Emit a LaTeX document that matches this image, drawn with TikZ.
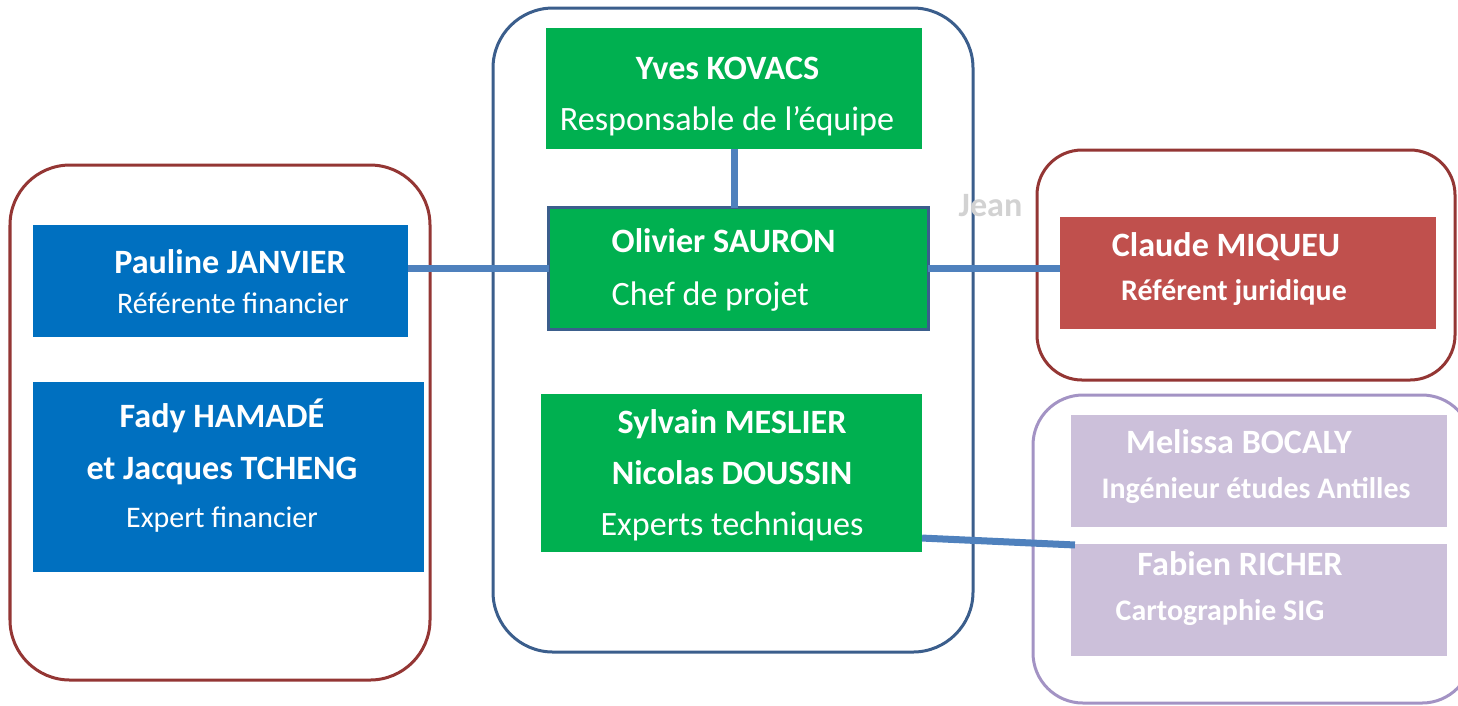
\documentclass[tikz,border=0pt]{standalone}
\usepackage{fontspec}
\setmainfont{Carlito}
\usetikzlibrary{calc}

\definecolor{teamblue}{HTML}{0070C0}
\definecolor{teamgreen}{HTML}{00B050}
\definecolor{teamred}{HTML}{C0504D}
\definecolor{teamlilac}{HTML}{CCC0DA}
\definecolor{grpred}{HTML}{943634}
\definecolor{grpblue}{HTML}{3B5E8C}
\definecolor{grplilac}{HTML}{A393C4}
\definecolor{linkblue}{HTML}{4F81BD}

\tikzset{
    box/.style={rectangle, inner sep=0pt, outer sep=0pt, minimum width=3.76cm, minimum height=1.12cm},
    group/.style={rounded corners=0.6cm, line width=0.03cm},
    link/.style={draw=linkblue, line width=0.07cm},
    who/.style={anchor=base, inner sep=0pt, text=white, font=\fontsize{9.7}{11}\selectfont\bfseries},
    role/.style={anchor=base, inner sep=0pt, text=white, font=\fontsize{9.7}{11}\selectfont},
    rolesm/.style={anchor=base, inner sep=0pt, text=white, font=\fontsize{8.5}{10}\selectfont},
    rolesmb/.style={anchor=base, inner sep=0pt, text=white, font=\fontsize{8.5}{10}\selectfont\bfseries},
}

\begin{document}
\begin{tikzpicture}[x=0.01cm, y=-0.01cm]
    \useasboundingbox (0,0) rectangle (1458,705);
    % groups
        \draw [group, grpred] (10,165) rectangle (430,680);
        \draw [group, grpblue] (493,8) rectangle (973,652);
        \draw [group, grpred, rounded corners=0.45cm] (1037,150) rectangle (1455,380);
        \draw [group, grplilac, rounded corners=0.5cm] (1033,395) rectangle (1472,703);
    % boxes
        \node [box, fill=teamgreen, minimum height=1.21cm] (yves) at (734,88.5) {};
        \node [box, fill=teamgreen, draw=grpblue, line width=0.03cm, minimum width=3.79cm, minimum height=1.21cm] (olivier) at (738.5,268.5) {};
        \node [box, fill=teamgreen, minimum width=3.81cm, minimum height=1.58cm] (sylvain) at (731.5,473) {};
        \node [box, fill=teamblue, minimum width=3.75cm] (pauline) at (220.5,281) {};
        \node [box, fill=teamblue, minimum width=3.91cm, minimum height=1.90cm] (fady) at (228.5,477) {};
        \node [box, fill=teamred] (claude) at (1248,273) {};
        \node [box, fill=teamlilac] (melissa) at (1259,471) {};
        \node [box, fill=teamlilac] (fabien) at (1259,600) {};
    % links
        \draw [link] (yves.south) -- (yves.south |- olivier.north);
        \draw [link] (pauline.east |- olivier.west) -- (olivier.west);
        \draw [link] (olivier.east) -- (olivier.east -| claude.west);
        \draw [link] ($(sylvain.south east)+(0,-14)$) -- ($(fabien.north west)+(4,1)$);
    % texts
        \node [who] (yvesn) at (727.5,79) {Yves KOVACS};
        \node [role] (yvesr) at (727,130) {Responsable de l’équipe};
        \node [who, anchor=base west] (oliviern) at (611,252) {Olivier SAURON};
        \node [role, anchor=base west] (olivierr) at (611,305) {Chef de projet};
        \node [who] (sylvainn) at (732,433) {Sylvain MESLIER};
        \node [who] (nicolasn) at (732,484) {Nicolas DOUSSIN};
        \node [role] (sylvainr) at (732,535) {Experts techniques};
        \node [who] (paulinen) at (230,273) {Pauline JANVIER};
        \node [rolesm] (pauliner) at (233,313) {Référente financier};
        \node [who] (fadyn) at (222,427) {Fady HAMADÉ};
        \node [who] (jacquesn) at (222,479) {et Jacques TCHENG};
        \node [rolesm] (fadyr) at (222,527) {Expert financier};
        \node [who] (clauden) at (1226,256) {Claude MIQUEU};
        \node [rolesmb] (clauder) at (1234,300) {Référent juridique};
        \node [who] (melissan) at (1239,453) {Melissa BOCALY};
        \node [rolesmb] (melissar) at (1256,498) {Ingénieur études Antilles};
        \node [who] (fabienn) at (1240,575) {Fabien RICHER};
        \node [rolesmb] (fabienr) at (1220,620) {Cartographie SIG};
        \node [who, anchor=base west, text=gray!35] (jean) at (958,216) {Jean};
    \end{tikzpicture}
\end{document}
